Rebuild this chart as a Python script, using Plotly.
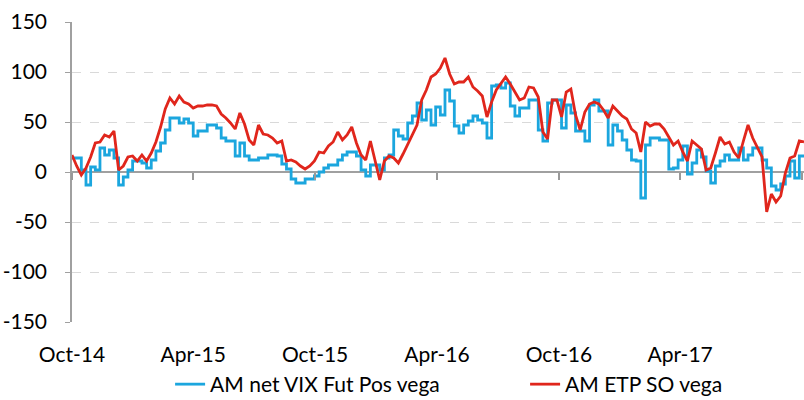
import pandas as pd
import plotly.graph_objects as go

start_date = "2014-10-01"
axis_end = "2017-10-04"

y_ticks = [-150, -100, -50, 0, 50, 100, 150]
y_tick_labels = [str(v) for v in y_ticks]

fut_pos_vega = [
    14, 14, 2, -13, 5, 2, 24, 17, 22, 14,
    -13, -5, 2, 11, 11, 9, 4, 12, 21, 29,
    42, 54, 54, 49, 53, 49, 36, 41, 41, 47,
    47, 44, 34, 31, 31, 16, 29, 16, 12, 12,
    14, 14, 17, 17, 16, 8, 3, -7, -11, -11,
    -7, -7, -4, 0, 4, 7, 7, 12, 17, 20,
    20, 16, 2, -4, 7, 7, 2, 14, 17, 42,
    36, 33, 49, 56, 69, 52, 62, 47, 65, 57,
    82, 71, 46, 39, 47, 51, 56, 52, 49, 34,
    86, 87, 84, 89, 66, 56, 64, 64, 72, 72,
    42, 31, 69, 72, 72, 44, 67, 59, 41, 41,
    31, 67, 72, 61, 61, 27, 47, 41, 32, 22,
    12, 11, -26, 27, 34, 34, 32, 32, 3, 4,
    12, 26, -2, 9, 22, 15, 1, -11, 6, 11,
    17, 12, 12, 24, 12, 17, 24, 24, 12, 4,
    -14, -18, -12, -4, 11, -6, 16, 16,
]

etp_so_vega = [
    17, 6, -3, 4, 15, 29, 30, 37, 35, 41,
    2, 6, 15, 16, 11, 17, 11, 19, 30, 45,
    63, 74, 68, 76, 70, 68, 64, 66, 66, 67,
    67, 66, 58, 54, 49, 43, 59, 48, 32, 27,
    47, 38, 37, 34, 29, 31, 11, 12, 10, 6,
    3, 6, 11, 20, 19, 26, 30, 40, 32, 37,
    45, 29, 17, 12, 31, 12, -8, 11, 16, 14,
    9, 18, 28, 38, 47, 72, 82, 95, 98, 104,
    114, 98, 88, 90, 90, 95, 85, 81, 76, 55,
    70, 82, 88, 95, 88, 80, 72, 74, 85, 84,
    75, 40, 33, 72, 72, 55, 80, 83, 57, 42,
    60, 68, 70, 68, 62, 54, 66, 61, 56, 53,
    43, 39, 20, 50, 46, 48, 48, 43, 35, 27,
    31, 20, 11, 31, 27, 23, 2, 4, 19, 35,
    28, 30, 20, 14, 31, 47, 34, 24, 15, -40,
    -22, -30, -24, -1, 14, 16, 31, 30,
]

dates_blue = pd.date_range(start_date, periods=len(fut_pos_vega), freq="7D")
dates_red = pd.date_range(start_date, periods=len(etp_so_vega), freq="7D")

FONT = "Lato, Liberation Sans, sans-serif"
FS = 21

fig = go.Figure()
fig.add_trace(go.Scatter(
    x=dates_blue, y=fut_pos_vega, mode="lines", line_shape="hv",
    name="AM net VIX Fut Pos vega",
    line=dict(color="#1BA6DE", width=2.8),
))
fig.add_trace(go.Scatter(
    x=dates_red, y=etp_so_vega, mode="lines",
    name="AM ETP SO vega",
    line=dict(color="#E0261C", width=2.8),
))
# invisible trace so the zero-line tick axis renders
fig.add_trace(go.Scatter(x=[dates_blue[0]], y=[None], xaxis="x2", showlegend=False,
                         hoverinfo="skip"))

fig.update_layout(
    width=804, height=400,
    margin=dict(l=72, r=0, t=22, b=78, autoexpand=False),
    paper_bgcolor="white", plot_bgcolor="white",
    font=dict(family=FONT, size=FS, color="#000000"),
    showlegend=True,
    legend=dict(
        orientation="h", x=0.134, xanchor="left", y=-0.14, yanchor="top",
        entrywidth=310, entrywidthmode="pixels",
        font=dict(family=FONT, size=FS, color="#000000"),
        itemwidth=30, bgcolor="rgba(0,0,0,0)",
    ),
    xaxis=dict(
        type="date", range=[start_date, axis_end],
        tick0=start_date, dtick="M6", tickformat="%b-%y",
        showgrid=False, zeroline=False, showline=False,
        ticks="", ticklabelstandoff=18, automargin=False,
    ),
    xaxis2=dict(
        type="date", overlaying="x", matches="x", anchor="free", position=0.5,
        tick0=start_date, dtick="M6",
        showgrid=False, zeroline=False, showline=False,
        ticks="outside", ticklen=7, tickcolor="#999999", tickwidth=1.5,
        showticklabels=False,
    ),
    yaxis=dict(
        range=[-150, 150], tickvals=y_ticks, ticktext=y_tick_labels,
        automargin=False,
        showgrid=True, gridcolor="#D9D9D9", griddash="dash", gridwidth=1,
        zeroline=True, zerolinecolor="#A0A0A0", zerolinewidth=2,
        showline=True, linecolor="#A0A0A0", linewidth=1.5,
        ticks="outside", ticklen=5, tickcolor="#A0A0A0",
        ticklabelstandoff=14,
    ),
)

fig.write_html(
    "out.html",
    config={"displayModeBar": False},
    post_script="document.body.style.margin='0';document.body.style.overflow='hidden';",
)
